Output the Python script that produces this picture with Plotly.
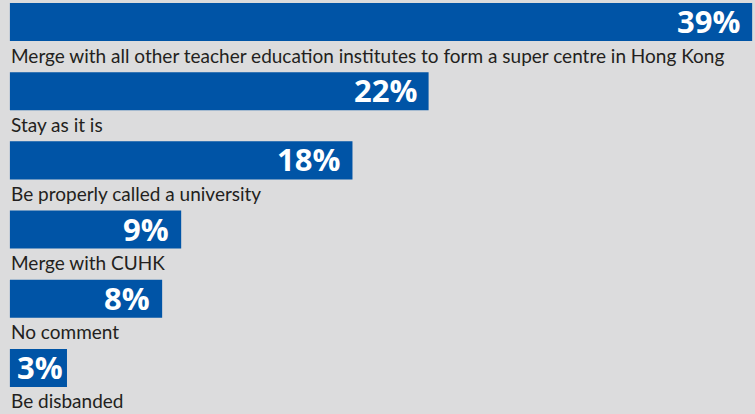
import plotly.graph_objects as go

# Survey responses, top to bottom
categories = [
    "Merge with all other teacher education institutes to form a super centre in Hong Kong",
    "Stay as it is",
    "Be properly called a university",
    "Merge with CUHK",
    "No comment",
    "Be disbanded",
]
shares = [39, 22, 18, 9, 8, 3]

BLUE = "#0054a6"
BG = "#dcdcdd"
INK = "#231f20"

positions = list(range(len(categories)))

fig = go.Figure(
    go.Bar(
        x=shares,
        y=positions,
        orientation="h",
        width=0.55,
        marker=dict(color=BLUE, line=dict(width=0)),
        hoverinfo="skip",
    )
)

for pos, label, value in zip(positions, categories, shares):
    # Percentage, right-aligned near the end of the bar
    fig.add_annotation(
        x=value, y=pos, xref="x", yref="y",
        text=f"<b>{value}%</b>", showarrow=False,
        xanchor="right", yanchor="middle",
        xshift=-10 if value > 5 else -2, yshift=1,
        font=dict(family="Open Sans", size=31, color="white"),
    )
    # Category caption just under the bar
    fig.add_annotation(
        x=0, y=pos, xref="x", yref="y",
        text=label, showarrow=False,
        xanchor="left", yanchor="middle",
        yshift=-33, xshift=-1,
        font=dict(family="Lato", size=19, color=INK),
    )

fig.update_layout(
    width=755, height=414,
    margin=dict(l=0, r=0, t=0, b=0),
    paper_bgcolor=BG, plot_bgcolor=BG,
    showlegend=False,
    xaxis=dict(range=[-0.52, 39.15], visible=False, fixedrange=True),
    yaxis=dict(range=[5.665, -0.318], visible=False, fixedrange=True),
)

fig.write_html("out.html")
